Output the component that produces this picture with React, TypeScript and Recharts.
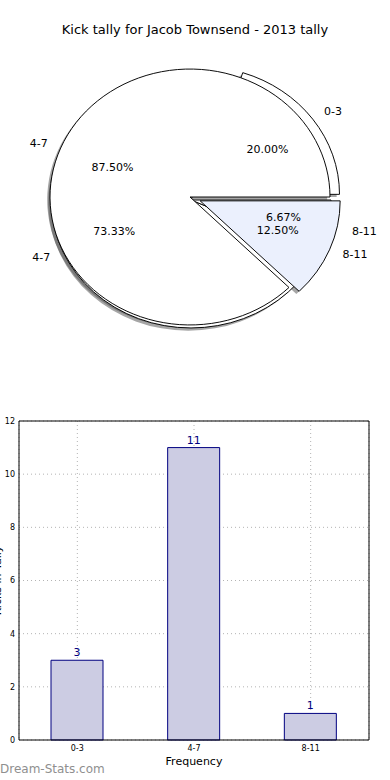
import { PieChart, Pie, Cell, BarChart, Bar, XAxis, YAxis, CartesianGrid, LabelList } from "recharts";

const TITLE = "Kick tally for Jacob Townsend - 2013 tally";

// first pie (whole tally)
const PIE_A_NAMES = ["0-3", "4-7", "8-11"];
const PIE_A_VALUES = [3, 11, 1];
// second pie drawn over it
const PIE_B_NAMES = ["4-7", "8-11"];
const PIE_B_VALUES = [7, 1];

// bar chart
const BAR_NAMES = ["0-3", "4-7", "8-11"];
const BAR_VALUES = [3, 11, 1];
const Y_TICKS = [0, 2, 4, 6, 8, 10, 12];

const FONT = "'DejaVu Sans', sans-serif";

// pie geometry (circle, then squashed vertically like the matplotlib ellipse)
const R = 140;
const SY = 0.914;
const OX = 190;
const OY = 197;
const SHADOW_DX = -2.8;
const SHADOW_DY = 3;
const SHADOW_FILL = "rgba(77,77,77,0.5)";

const PIE_A = {
  key: "a",
  names: PIE_A_NAMES,
  values: PIE_A_VALUES,
  cx: 191,
  cy: OY + 3 / SY,
  explode: [10.5, 0, 0],
  labelExplode: [10.5, 0, 10.5],
  fills: ["#ffffff", "#ffffff", "#ffffff"],
};
const PIE_B = {
  key: "b",
  names: PIE_B_NAMES,
  values: PIE_B_VALUES,
  cx: OX,
  cy: OY,
  explode: [0, 11],
  labelExplode: [0, 11],
  fills: ["#ffffff", "#ebf0fd"],
};

type PieSpec = typeof PIE_A;

const RAD = Math.PI / 180;

function midAngles(values: number[]) {
  const total = values.reduce((s, v) => s + v, 0);
  let acc = 0;
  return values.map((v) => {
    const a = ((acc + v / 2) / total) * 360;
    acc += v;
    return a;
  });
}

function toData(p: PieSpec) {
  return p.names.map((name, i) => ({ name, value: p.values[i] }));
}

function pieLayer(id: string, p: PieSpec, cx: number, cy: number, visible: boolean[], shadow: boolean) {
  const data = toData(p);
  return (
    <Pie
      key={id}
      data={data}
      dataKey="value"
      nameKey="name"
      cx={cx}
      cy={cy}
      innerRadius={0}
      outerRadius={R}
      startAngle={0}
      endAngle={360}
      labelLine={false}
      isAnimationActive={false}
    >
      {data.map((d, i) => (
        <Cell
          key={d.name + i}
          fill={visible[i] ? (shadow ? SHADOW_FILL : p.fills[i]) : "none"}
          stroke={visible[i] && !shadow ? "#000" : "none"}
          strokeWidth={1}
        />
      ))}
    </Pie>
  );
}

// main wedges + one layer per exploded wedge
function pieLayers(p: PieSpec, shadow: boolean) {
  const mids = midAngles(p.values);
  const dx = shadow ? SHADOW_DX : 0;
  const dy = shadow ? SHADOW_DY : 0;
  const tag = p.key + (shadow ? "s" : "w");
  const out = [pieLayer(tag + "main", p, p.cx + dx, p.cy + dy, p.explode.map((e) => e === 0), shadow)];
  p.explode.forEach((e, i) => {
    if (e === 0) return;
    out.push(
      pieLayer(
        tag + i,
        p,
        p.cx + e * Math.cos(mids[i] * RAD) + dx,
        p.cy - e * Math.sin(mids[i] * RAD) + dy,
        p.explode.map((_, j) => j === i),
        shadow
      )
    );
  });
  return out;
}

function makeLabel(p: PieSpec) {
  return (props: any) => {
    const { cx, cy, midAngle, percent, index, name } = props;
    const e = p.labelExplode[index] || 0;
    const c = Math.cos(midAngle * RAD);
    const s = Math.sin(midAngle * RAD);
    const x0 = cx + e * c;
    const y0 = OY + (cy - e * s - OY) * SY;
    return (
      <g key={`lbl-${p.key}-${index}`}>
        <text
          x={x0 + 1.1 * R * c}
          y={y0 - 1.1 * R * SY * s}
          textAnchor={c > 0 ? "start" : "end"}
          dominantBaseline="central"
          fontSize={11}
          fontFamily={FONT}
          fill="#000"
        >
          {name}
        </text>
        <text
          x={x0 + 0.6 * R * c}
          y={y0 - 0.6 * R * SY * s}
          textAnchor="middle"
          dominantBaseline="central"
          fontSize={11}
          fontFamily={FONT}
          fill="#000"
        >
          {(percent * 100).toFixed(2) + "%"}
        </text>
      </g>
    );
  };
}

function labelLayer(p: PieSpec) {
  const data = toData(p);
  return (
    <Pie
      key={p.key + "labels"}
      data={data}
      dataKey="value"
      nameKey="name"
      cx={p.cx}
      cy={p.cy}
      outerRadius={R}
      startAngle={0}
      endAngle={360}
      labelLine={false}
      label={makeLabel(p)}
      isAnimationActive={false}
    >
      {data.map((d, i) => (
        <Cell key={d.name + i} fill="none" stroke="none" />
      ))}
    </Pie>
  );
}

const barData = BAR_NAMES.map((name, i) => ({ name, count: BAR_VALUES[i] }));

export default function App() {
  return (
    <div style={{ position: "relative", width: 390, height: 780, background: "#fff", fontFamily: FONT, overflow: "hidden" }}>
      <style>{`
        body { margin: 0; }
        .pie-box .recharts-sector { transform: scaleY(${SY}); transform-origin: ${OX}px ${OY}px; }
      `}</style>

      <div style={{ position: "absolute", top: 22, left: 0, width: 390, textAlign: "center", fontSize: 13, color: "#000" }}>
        {TITLE}
      </div>

      <div className="pie-box" style={{ position: "absolute", top: 0, left: 0 }}>
        <PieChart width={390} height={360} margin={{ top: 0, right: 0, bottom: 0, left: 0 }}>
          {pieLayers(PIE_A, true)}
          {pieLayers(PIE_B, true)}
          {pieLayers(PIE_A, false)}
          {pieLayers(PIE_B, false)}
          {labelLayer(PIE_A)}
          {labelLayer(PIE_B)}
        </PieChart>
      </div>

      <div style={{ position: "absolute", top: 400, left: 0 }}>
        <BarChart width={390} height={380} data={barData} margin={{ top: 20, right: 20, bottom: 20, left: 0 }}>
          <CartesianGrid stroke="#b4b4b4" strokeDasharray="1 3" />
          <XAxis
            dataKey="name"
            tick={{ fontSize: 8, fill: "#000", fontFamily: FONT }}
            tickLine={false}
            axisLine={{ stroke: "#000" }}
            height={20}
            tickSize={0}
            tickMargin={5}
            label={{ value: "Frequency", position: "insideBottom", offset: -5, fontSize: 11, fill: "#000", fontFamily: FONT }}
          />
          <XAxis xAxisId="top" dataKey="name" orientation="top" height={1} tick={false} tickLine={false} axisLine={{ stroke: "#000" }} />
          <YAxis
            domain={[0, 12]}
            ticks={Y_TICKS}
            interval={0}
            width={19}
            tick={{ fontSize: 8, fill: "#000", fontFamily: FONT }}
            tickLine={false}
            tickSize={0}
            tickMargin={4}
            axisLine={{ stroke: "#000" }}
          />
          <YAxis yAxisId="right" orientation="right" width={1} domain={[0, 12]} tick={false} tickLine={false} axisLine={{ stroke: "#000" }} />
          <Bar dataKey="count" fill="#cccce3" stroke="#000080" strokeWidth={1} barSize={52} isAnimationActive={false}>
            <LabelList dataKey="count" position="top" offset={4} fill="#000080" fontSize={11} fontFamily={FONT} />
          </Bar>
        </BarChart>
      </div>

      <div
        style={{
          position: "absolute",
          left: -43,
          top: 574,
          width: 80,
          textAlign: "center",
          fontSize: 11,
          color: "#000",
          transform: "rotate(-90deg)",
          whiteSpace: "nowrap",
        }}
      >
        Kicks in Tally
      </div>

      <div style={{ position: "absolute", left: 0, top: 762, fontSize: 12, color: "#8f8f8f" }}>
        Dream-Stats.com
      </div>
    </div>
  );
}
